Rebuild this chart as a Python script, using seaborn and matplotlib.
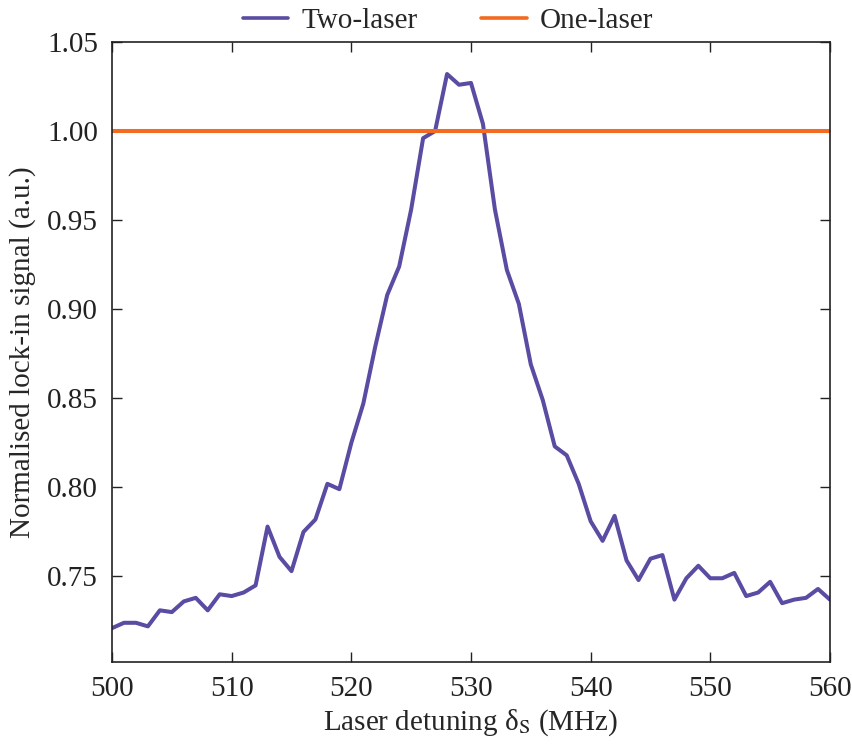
import numpy as np
import pandas as pd
import matplotlib
matplotlib.use("Agg")
import matplotlib.pyplot as plt
import seaborn as sns

detuning = list(range(500, 561))
two_laser = [0.721, 0.724, 0.724, 0.722, 0.731, 0.730, 0.736, 0.738, 0.731, 0.740,
             0.739, 0.741, 0.745, 0.778, 0.761, 0.753, 0.775, 0.782, 0.802, 0.799,
             0.825, 0.847, 0.879, 0.908, 0.924, 0.956, 0.996, 1.000, 1.032, 1.026,
             1.027, 1.004, 0.956, 0.922, 0.903, 0.869, 0.849, 0.823, 0.818, 0.802,
             0.781, 0.770, 0.784, 0.759, 0.748, 0.760, 0.762, 0.737, 0.749, 0.756,
             0.749, 0.749, 0.752, 0.739, 0.741, 0.747, 0.735, 0.737, 0.738, 0.743,
             0.737]
one_laser = [1.0] * len(detuning)
series_names = ["Two-laser", "One-laser"]
colors = ["#5A4BA3", "#F26B21"]
yticks = [0.75, 0.80, 0.85, 0.90, 0.95, 1.00, 1.05]
xticks = [500, 510, 520, 530, 540, 550, 560]

df = pd.DataFrame({
    "x": detuning * 2,
    "y": two_laser + one_laser,
    "series": [series_names[0]] * len(detuning) + [series_names[1]] * len(detuning),
})

sns.set_style("ticks")
plt.rcParams["font.family"] = ["Liberation Serif", "DejaVu Serif"]
plt.rcParams["mathtext.fontset"] = "stix"

fig = plt.figure(figsize=(8.53, 7.47), dpi=100)
ax = fig.add_axes([0.1313, 0.1138, 0.8417, 0.83])
sns.lineplot(data=df, x="x", y="y", hue="series", hue_order=series_names,
             palette=colors, linewidth=2.9, ax=ax)

ax.set_xlim(500, 560)
ax.set_ylim(0.702, 1.05)
ax.set_xticks(xticks)
ax.set_yticks(yticks)
ax.set_yticklabels([f"{v:.2f}" for v in yticks])
ax.tick_params(direction="in", length=7, width=1, top=True, right=True,
               labelsize=21, colors="#222222", pad=10)
for s in ax.spines.values():
    s.set_linewidth(1.2)
    s.set_color("#222222")
ax.set_xlabel(r"Laser detuning δ$_\mathrm{S}$ (MHz)", fontsize=21, labelpad=4)
ax.set_ylabel("Normalised lock-in signal (a.u.)", fontsize=21, labelpad=8)

leg = ax.legend(loc="lower center", bbox_to_anchor=(0.468, 0.994), ncol=2,
                frameon=False, fontsize=21, handlelength=1.55, columnspacing=2.2,
                handletextpad=0.45, borderaxespad=0)
for line in leg.get_lines():
    line.set_linewidth(2.6)

fig.savefig("out.png", dpi=100)
